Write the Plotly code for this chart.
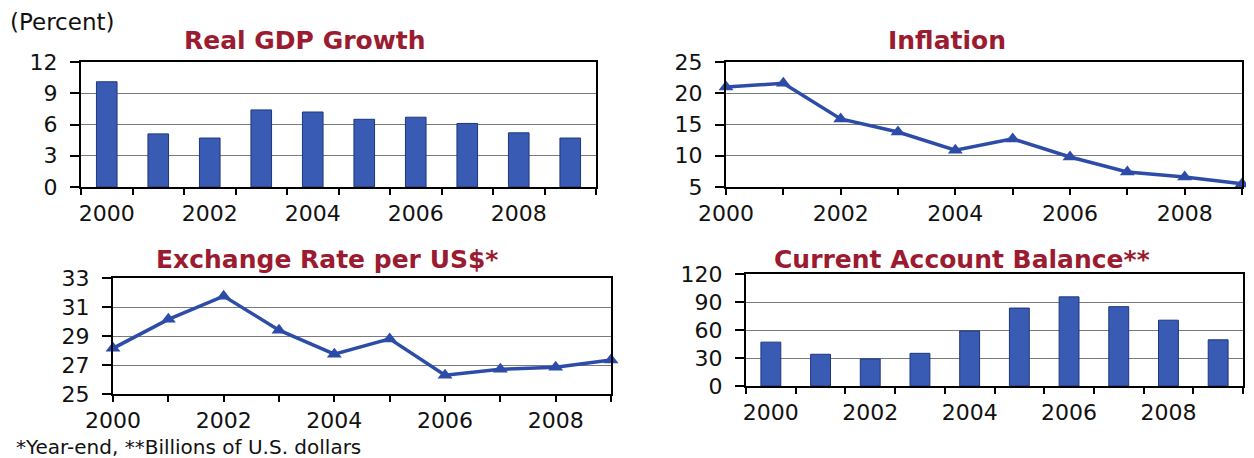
import plotly.graph_objects as go

years = [2000, 2001, 2002, 2003, 2004, 2005, 2006, 2007, 2008, 2009]
year_labels = ["2000", "", "2002", "", "2004", "", "2006", "", "2008", ""]
gdp_growth = [10.1, 5.1, 4.7, 7.4, 7.2, 6.5, 6.7, 6.1, 5.2, 4.7]
inflation = [21.0, 21.6, 15.9, 13.8, 10.9, 12.7, 9.8, 7.4, 6.6, 5.5]
exchange_rate = [28.15, 30.15, 31.75, 29.4, 27.75, 28.8, 26.3, 26.7, 26.85, 27.35]
current_account = [47, 34, 29, 35, 59, 83.5, 95.5, 85, 70.5, 49.5]

# The page body has an 8px default margin; size the figure to fill the rest.
PAGE_W, PAGE_H = 1254, 458
OFF = 8
W, H = PAGE_W - OFF, PAGE_H - OFF
TITLE_RED = "#9B1B30"
BLUE_FILL = "#3A5BB3"
BLUE_EDGE = "#1C367D"
BLUE_LINE = "#2D4CA8"
TICK_FONT = dict(family="DejaVu Sans", size=22, color="#111111")


def fx(p):
    return (p - OFF) / W


def fy(p):
    return 1 - (p - OFF) / H


def px_x(a, b):
    return [fx(a), fx(b)]


def px_y(top, bottom):
    return [fy(bottom), fy(top)]


fig = go.Figure()

# Panel domains (page pixels)
panels = {
    "1": dict(x=px_x(81, 596), y=px_y(62, 187)),
    "2": dict(x=px_x(726, 1242), y=px_y(62, 187)),
    "3": dict(x=px_x(113, 611), y=px_y(278, 394)),
    "4": dict(x=px_x(746, 1243), y=px_y(274, 386)),
}

fig.add_trace(go.Bar(x=years, y=gdp_growth, width=0.4, marker=dict(color=BLUE_FILL, line=dict(color=BLUE_EDGE, width=1)),
                     xaxis="x", yaxis="y", showlegend=False))
fig.add_trace(go.Scatter(x=years, y=inflation, mode="lines+markers", cliponaxis=False,
                         line=dict(color=BLUE_LINE, width=3.5),
                         marker=dict(symbol="triangle-up", size=13, color=BLUE_LINE),
                         xaxis="x2", yaxis="y2", showlegend=False))
fig.add_trace(go.Scatter(x=years, y=exchange_rate, mode="lines+markers", cliponaxis=False,
                         line=dict(color=BLUE_LINE, width=3.5),
                         marker=dict(symbol="triangle-up", size=13, color=BLUE_LINE),
                         xaxis="x3", yaxis="y3", showlegend=False))
fig.add_trace(go.Bar(x=years, y=current_account, width=0.4, marker=dict(color=BLUE_FILL, line=dict(color=BLUE_EDGE, width=1)),
                     xaxis="x4", yaxis="y4", showlegend=False))


def bar_xaxis(dom, anchor):
    return dict(domain=dom, anchor=anchor, range=[1999.5, 2009.5], tickmode="array",
                tickvals=years, ticktext=year_labels, ticks="", tickfont=TICK_FONT,
                ticklabelstandoff=6, automargin=False,
                minor=dict(tickmode="linear", tick0=1999.5, dtick=1, ticks="outside", ticklen=6,
                           tickwidth=1.5, tickcolor="black", showgrid=False),
                showline=True, linecolor="black", linewidth=2, mirror=True, showgrid=False,
                zeroline=False, fixedrange=True)


def line_xaxis(dom, anchor):
    return dict(domain=dom, anchor=anchor, range=[2000, 2009], tickmode="array",
                tickvals=years, ticktext=year_labels, ticks="outside", ticklen=6, tickwidth=1.5,
                tickcolor="black", tickfont=TICK_FONT, ticklabelstandoff=0, automargin=False,
                showline=True, linecolor="black", linewidth=2, mirror=True, showgrid=False,
                zeroline=False, fixedrange=True)


def yaxis(dom, anchor, rng, dtick):
    return dict(domain=dom, anchor=anchor, range=rng, tickmode="linear", tick0=rng[0], dtick=dtick,
                ticks="outside", ticklen=9, tickwidth=1.5, tickcolor="black", tickfont=TICK_FONT,
                ticklabelstandoff=8, automargin=False,
                showline=True, linecolor="black", linewidth=2, mirror=True,
                showgrid=True, gridcolor="#7a7a7a", gridwidth=1.3, zeroline=False, fixedrange=True)


fig.update_layout(
    width=W, height=H, margin=dict(l=0, r=0, t=0, b=0, autoexpand=False),
    paper_bgcolor="white", plot_bgcolor="white",
    xaxis=bar_xaxis(panels["1"]["x"], "y"),
    yaxis=yaxis(panels["1"]["y"], "x", [0, 12], 3),
    xaxis2=line_xaxis(panels["2"]["x"], "y2"),
    yaxis2=yaxis(panels["2"]["y"], "x2", [5, 25], 5),
    xaxis3=line_xaxis(panels["3"]["x"], "y3"),
    yaxis3=yaxis(panels["3"]["y"], "x3", [25, 33], 2),
    xaxis4=bar_xaxis(panels["4"]["x"], "y4"),
    yaxis4=yaxis(panels["4"]["y"], "x4", [0, 120], 30),
)

title_font = dict(family="DejaVu Sans", size=25, color=TITLE_RED, weight="bold")
titles = [
    ("Real GDP Growth", 305, 40),
    ("Inflation", 947, 40),
    ("Exchange Rate per US$*", 327, 259),
    ("Current Account Balance**", 962, 259),
]
for text, cx, cy in titles:
    fig.add_annotation(text=text, x=fx(cx), y=fy(cy), xref="paper", yref="paper",
                       xanchor="center", yanchor="middle", showarrow=False, font=title_font)

fig.add_annotation(text="(Percent)", x=fx(9), y=fy(8.5), xref="paper", yref="paper",
                   xanchor="left", yanchor="top", showarrow=False, borderpad=0,
                   font=dict(family="DejaVu Sans", size=23, color="#111111"))
fig.add_annotation(text="*Year-end, **Billions of U.S. dollars", x=fx(14), y=fy(447),
                   xref="paper", yref="paper", xanchor="left", yanchor="middle", showarrow=False,
                   font=dict(family="DejaVu Sans", size=20, color="#111111"))

fig.write_html("out.html")
